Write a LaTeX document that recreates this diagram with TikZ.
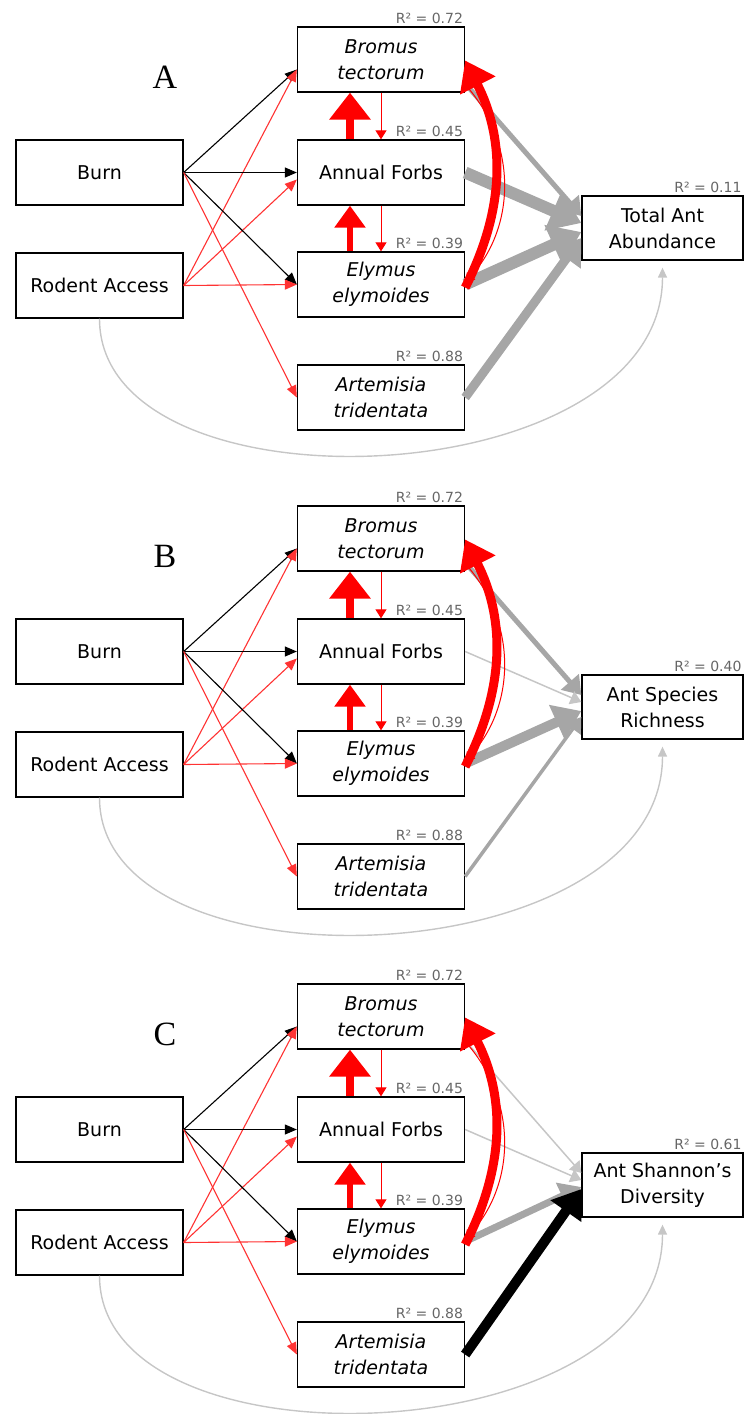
\documentclass[tikz,border=0pt]{standalone}
\usepackage{fontspec}
\setmainfont{DejaVu Sans}
\newfontfamily\letterfont{Liberation Serif}
\usetikzlibrary{arrows.meta}

\tikzset{
  box/.style={draw, line width=1.3pt, fill=white, minimum width=167pt, minimum height=65pt,
    inner sep=0pt, align=center, font=\fontsize{19}{26}\selectfont},
  plant/.style={box, font=\fontsize{19}{26}\selectfont\itshape},
  rsq/.style={anchor=south east, inner sep=2pt, text=black!60, font=\fontsize{14}{16}\selectfont},
  panel/.style={font=\letterfont\fontsize{34}{34}\selectfont},
  drvto/.style={line width=1.1pt, -{Triangle[length=12pt, width=10pt]}},
  redto/.style={draw=red, line width=1pt, -{Triangle[length=9pt, width=11pt]}},
  redbig/.style={draw=red, line width=8pt, -{Triangle[length=27pt, width=40pt]}},
  redmid/.style={draw=red, line width=6pt, -{Triangle[length=22pt, width=30pt]}},
  redarc/.style={draw=red, line width=9pt, -{Triangle[length=28pt, width=38pt]}},
  gto/.style={line width=#1, -{Triangle[length=8pt 1.9, width=10pt 2.6]}},
  backto/.style={draw=gray!45, line width=1.4pt, -{Triangle[length=10pt, width=9pt]}}
}

% one panel: letter, response box, R^2 of response, arrows into response
\newcommand\plantpanel[4]{%
  \node[panel] (lbl) at (165,77) {#1};
  \node[box] (burn) at (99.5,172.5) {Burn};
  \node[box] (rodent) at (99.5,285.5) {Rodent Access};
  \node[plant] (brom) at (381,59.5) {Bromus\\tectorum};
  \node[box] (forb) at (381,172.5) {Annual Forbs};
  \node[plant] (elym) at (381,284.5) {Elymus\\elymoides};
  \node[plant] (arte) at (381,397.5) {Artemisia\\tridentata};
  \node[box, minimum width=161pt, minimum height=64pt] (ant) at (662.5,228) {#2};
  \node[rsq] (rbrom) at (brom.north east) {R² = 0.72};
  \node[rsq] (rforb) at (forb.north east) {R² = 0.45};
  \node[rsq] (relym) at (elym.north east) {R² = 0.39};
  \node[rsq] (rarte) at (arte.north east) {R² = 0.88};
  \node[rsq] (rant) at (ant.north east) {R² = #3};
  \coordinate (brom-in) at ([yshift=-10pt]brom.west);
  \coordinate (forb-in) at ([yshift=-7pt]forb.west);
  \coordinate (brom-out) at ([yshift=-24pt]brom.east);
  \foreach \i/\j/\c in {burn/brom-in/black, rodent/brom-in/red!80, burn/forb.west/black,
      rodent/forb-in/red!80, burn/elym.west/black, rodent/elym.west/red!80, burn/arte.west/red!80}
    {\draw[drvto, draw=\c] (\i.east) -- (\j);}
  \draw[redbig] ([xshift=-31pt]forb.north) -- ([xshift=-31pt]brom.south);
  \draw[redmid] ([xshift=-31pt]elym.north) -- ([xshift=-31pt]forb.south);
  \draw[redto] (brom.south) -- (forb.north);
  \draw[redto] (forb.south) -- (elym.north);
  \draw[backto] (rodent.south) .. controls +(0,200) and +(0,230) .. ([yshift=-7pt]ant.south);
  #4
  \draw[redto] ([yshift=-25pt]brom.east) to[bend left=42] ([yshift=2pt]elym.east);
  \draw[redarc] ([yshift=-3pt]elym.east) to[bend right=27] ([yshift=-1pt]brom.east);
}

\begin{document}
\begin{tikzpicture}[x=1pt, y=-1pt]
\useasboundingbox (0,0) rectangle (744,1414);

\begin{scope}
\plantpanel{A}{Total Ant\\Abundance}{0.11}{%
  \foreach \s/\w/\c/\t in {brom-out/5pt/gray!70/12, forb.east/12pt/gray!70/5,
      elym.east/12pt/gray!70/-4, arte.east/9pt/gray!70/-10}
    {\draw[gto=\w, draw=\c] (\s) -- ([yshift=\t pt]ant.west);}}
\end{scope}

\begin{scope}[yshift=-479pt]
\plantpanel{B}{Ant Species\\Richness}{0.40}{%
  \foreach \s/\w/\c/\t in {brom-out/5pt/gray!70/12, forb.east/1.5pt/gray!45/5,
      elym.east/10pt/gray!70/-4, arte.east/3.5pt/gray!70/-10}
    {\draw[gto=\w, draw=\c] (\s) -- ([yshift=\t pt]ant.west);}}
\end{scope}

\begin{scope}[yshift=-957pt]
\plantpanel{C}{Ant Shannon’s\\Diversity}{0.61}{%
  \foreach \s/\w/\c/\t in {brom-out/1.5pt/gray!45/12, forb.east/1.5pt/gray!45/5,
      elym.east/7pt/gray!70/-2, arte.east/10pt/black/-4}
    {\draw[gto=\w, draw=\c] (\s) -- ([yshift=\t pt]ant.west);}}
\end{scope}
\end{tikzpicture}
\end{document}
